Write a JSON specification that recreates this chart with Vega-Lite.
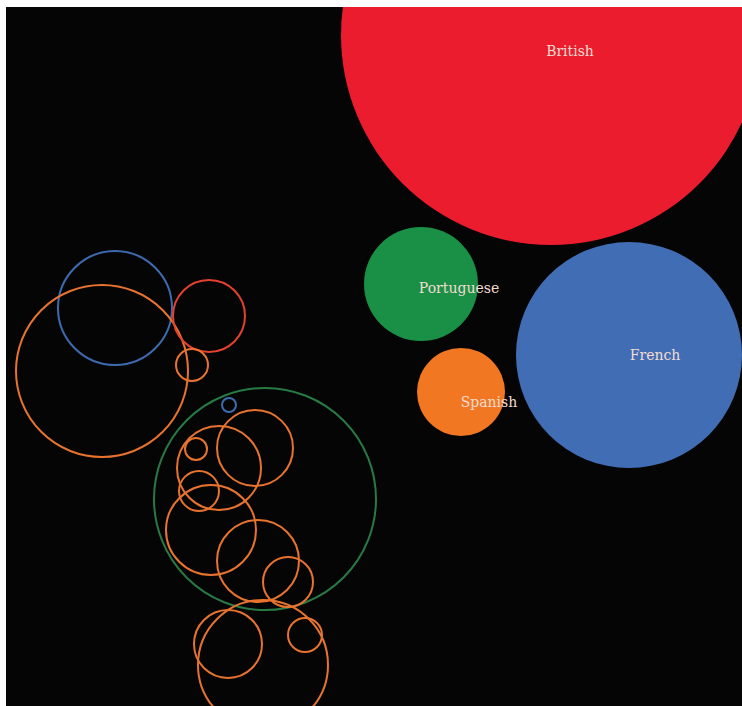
{
  "$schema": "https://vega.github.io/schema/vega-lite/v6.json",
  "width": 736,
  "height": 699,
  "autosize": {"type": "none"},
  "padding": {"left": 6, "top": 7, "right": 0, "bottom": 0},
  "background": "#ffffff",
  "config": {"view": {"fill": "#050505", "stroke": null}},
  "datasets": {
    "bubbles": [
      {"nation": "British", "kind": "filled", "x": 551, "y": 35, "value": 44100},
      {"nation": "Portuguese", "kind": "filled", "x": 421, "y": 284, "value": 3249},
      {"nation": "French", "kind": "filled", "x": 629, "y": 355, "value": 12769},
      {"nation": "Spanish", "kind": "filled", "x": 461, "y": 392, "value": 1936},
      {"nation": "French", "kind": "outline", "x": 115, "y": 308, "value": 3249},
      {"nation": "Spanish", "kind": "outline", "x": 102, "y": 371, "value": 7396},
      {"nation": "British", "kind": "outline", "x": 209, "y": 316, "value": 1296},
      {"nation": "Spanish", "kind": "outline", "x": 192, "y": 365, "value": 256},
      {"nation": "Portuguese", "kind": "outline", "x": 265, "y": 499, "value": 12321},
      {"nation": "French", "kind": "outline", "x": 229, "y": 405, "value": 49},
      {"nation": "Spanish", "kind": "outline", "x": 219, "y": 468, "value": 1764},
      {"nation": "Spanish", "kind": "outline", "x": 255, "y": 448, "value": 1444},
      {"nation": "Spanish", "kind": "outline", "x": 196, "y": 449, "value": 121},
      {"nation": "Spanish", "kind": "outline", "x": 199, "y": 491, "value": 400},
      {"nation": "Spanish", "kind": "outline", "x": 211, "y": 530, "value": 2025},
      {"nation": "Spanish", "kind": "outline", "x": 258, "y": 561, "value": 1681},
      {"nation": "Spanish", "kind": "outline", "x": 288, "y": 582, "value": 625},
      {"nation": "Spanish", "kind": "outline", "x": 228, "y": 644, "value": 1156},
      {"nation": "Spanish", "kind": "outline", "x": 263, "y": 665, "value": 4225},
      {"nation": "Spanish", "kind": "outline", "x": 305, "y": 635, "value": 289}
    ],
    "labels": [
      {"label": "British", "x": 570, "y": 52},
      {"label": "Portuguese", "x": 459, "y": 289},
      {"label": "French", "x": 655, "y": 356},
      {"label": "Spanish", "x": 489, "y": 403}
    ]
  },
  "resolve": {"scale": {"color": "independent"}},
  "layer": [
    {
      "data": {"name": "bubbles"},
      "transform": [{"filter": "datum.kind === 'filled'"}],
      "mark": {"type": "point", "shape": "circle", "filled": true, "opacity": 1, "clip": true},
      "encoding": {
        "x": {"field": "x", "type": "quantitative", "scale": {"domain": [6, 742], "nice": false, "zero": false}, "axis": null},
        "y": {"field": "y", "type": "quantitative", "scale": {"domain": [7, 706], "nice": false, "zero": false, "reverse": true}, "axis": null},
        "size": {"field": "value", "type": "quantitative", "scale": {"type": "linear", "domain": [0, 10000], "range": [0, 40000]}, "legend": null},
        "color": {"field": "nation", "type": "nominal", "scale": {"domain": ["British", "Portuguese", "French", "Spanish"], "range": ["#EC1C2F", "#1A9046", "#416DB4", "#F17722"]}, "legend": null}
      }
    },
    {
      "data": {"name": "bubbles"},
      "transform": [{"filter": "datum.kind === 'outline'"}],
      "mark": {"type": "point", "shape": "circle", "filled": false, "strokeWidth": 2, "opacity": 1, "clip": true},
      "encoding": {
        "x": {"field": "x", "type": "quantitative", "scale": {"domain": [6, 742], "nice": false, "zero": false}, "axis": null},
        "y": {"field": "y", "type": "quantitative", "scale": {"domain": [7, 706], "nice": false, "zero": false, "reverse": true}, "axis": null},
        "size": {"field": "value", "type": "quantitative", "scale": {"type": "linear", "domain": [0, 10000], "range": [0, 40000]}, "legend": null},
        "color": {"field": "nation", "type": "nominal", "scale": {"domain": ["British", "Portuguese", "French", "Spanish"], "range": ["#E5412F", "#287A45", "#3D6BB0", "#E8732F"]}, "legend": null}
      }
    },
    {
      "data": {"name": "labels"},
      "mark": {"type": "text", "font": "DejaVu Serif", "fontSize": 14, "color": "#F3DCD2", "align": "center", "baseline": "middle"},
      "encoding": {
        "x": {"field": "x", "type": "quantitative", "axis": null},
        "y": {"field": "y", "type": "quantitative", "axis": null},
        "text": {"field": "label", "type": "nominal"}
      }
    }
  ]
}
